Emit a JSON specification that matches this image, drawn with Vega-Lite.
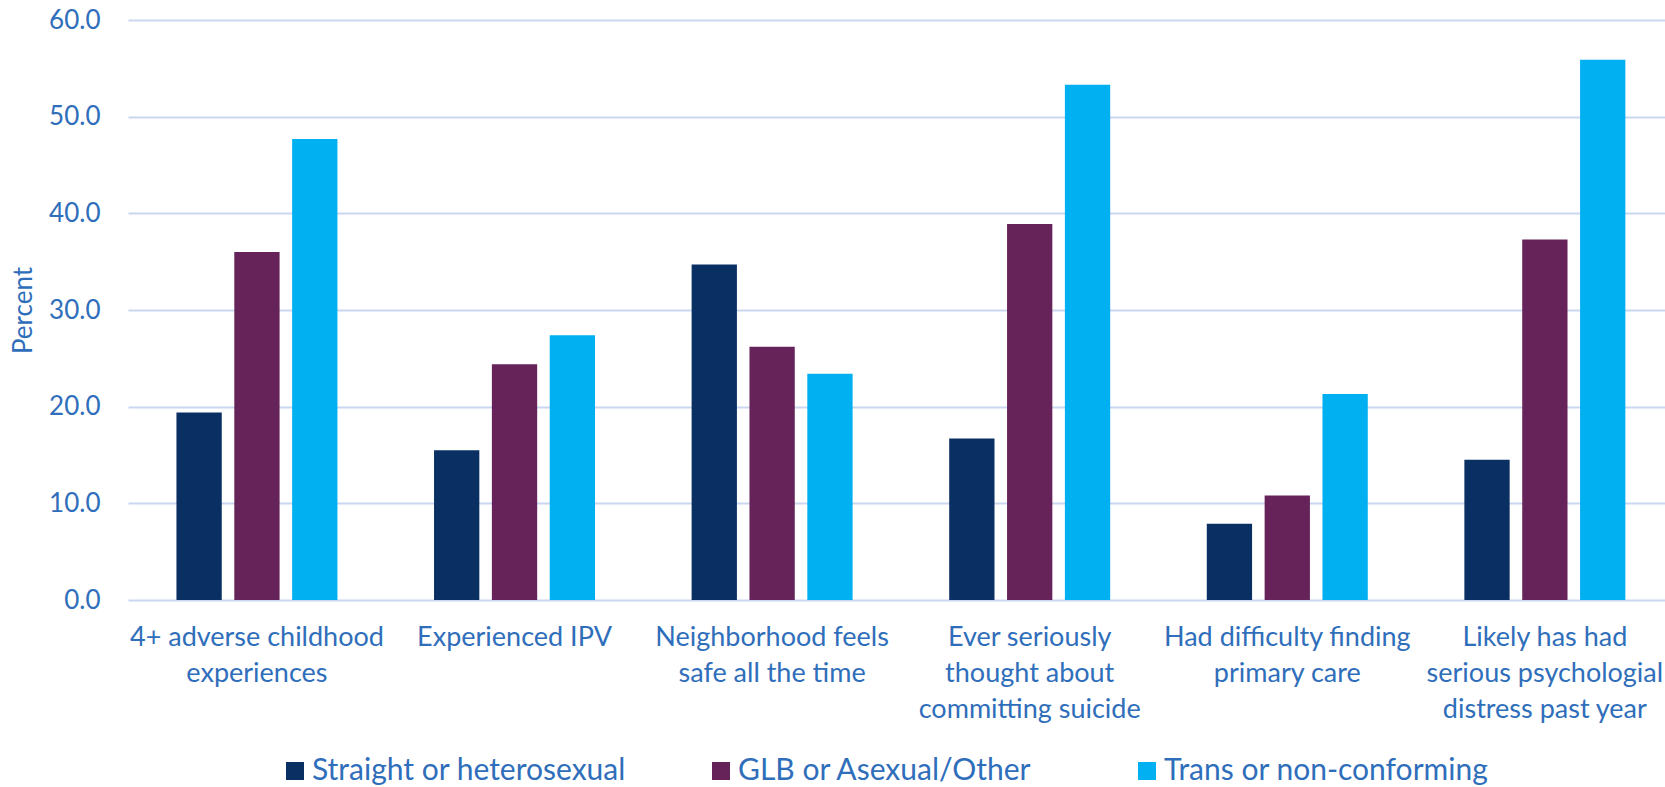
{
  "$schema": "https://vega.github.io/schema/vega-lite/v6.json",
  "width": 1537,
  "height": 580,
  "autosize": {"type": "none"},
  "padding": {"left": 128, "top": 20, "right": 0, "bottom": 187},
  "background": "white",
  "config": {
    "view": {"stroke": null},
    "font": "Lato",
    "axis": {"domain": false, "ticks": false, "labelColor": "#2F6EBA", "titleColor": "#2F6EBA", "gridColor": "#C9D8F0", "gridWidth": 1.8}
  },
  "data": {
    "values": [
      {"measure": "4+ adverse childhood experiences", "group": "Straight or heterosexual", "percent": 19.4},
      {"measure": "4+ adverse childhood experiences", "group": "GLB or Asexual/Other", "percent": 36.0},
      {"measure": "4+ adverse childhood experiences", "group": "Trans or non-conforming", "percent": 47.7},
      {"measure": "Experienced IPV", "group": "Straight or heterosexual", "percent": 15.5},
      {"measure": "Experienced IPV", "group": "GLB or Asexual/Other", "percent": 24.4},
      {"measure": "Experienced IPV", "group": "Trans or non-conforming", "percent": 27.4},
      {"measure": "Neighborhood feels safe all the time", "group": "Straight or heterosexual", "percent": 34.7},
      {"measure": "Neighborhood feels safe all the time", "group": "GLB or Asexual/Other", "percent": 26.2},
      {"measure": "Neighborhood feels safe all the time", "group": "Trans or non-conforming", "percent": 23.4},
      {"measure": "Ever seriously thought about committing suicide", "group": "Straight or heterosexual", "percent": 16.7},
      {"measure": "Ever seriously thought about committing suicide", "group": "GLB or Asexual/Other", "percent": 38.9},
      {"measure": "Ever seriously thought about committing suicide", "group": "Trans or non-conforming", "percent": 53.3},
      {"measure": "Had difficulty finding primary care", "group": "Straight or heterosexual", "percent": 7.9},
      {"measure": "Had difficulty finding primary care", "group": "GLB or Asexual/Other", "percent": 10.8},
      {"measure": "Had difficulty finding primary care", "group": "Trans or non-conforming", "percent": 21.3},
      {"measure": "Likely has had serious psychologial distress past year", "group": "Straight or heterosexual", "percent": 14.5},
      {"measure": "Likely has had serious psychologial distress past year", "group": "GLB or Asexual/Other", "percent": 37.3},
      {"measure": "Likely has had serious psychologial distress past year", "group": "Trans or non-conforming", "percent": 55.9}
    ]
  },
  "mark": {"type": "bar"},
  "encoding": {
    "x": {
      "field": "measure",
      "type": "nominal",
      "sort": null,
      "scale": {"paddingInner": 0.375, "paddingOuter": 0.171, "align": 0.55},
      "axis": {
        "title": null,
        "labelAngle": 0,
        "labelFontSize": 27,
        "labelLineHeight": 36,
        "labelPadding": 24,
        "labelBaseline": "top",
        "labelLimit": 0,
        "labelExpr": "{'4+ adverse childhood experiences': ['4+ adverse childhood', 'experiences'], 'Experienced IPV': ['Experienced IPV'], 'Neighborhood feels safe all the time': ['Neighborhood feels', 'safe all the time'], 'Ever seriously thought about committing suicide': ['Ever seriously', 'thought about', 'committing suicide'], 'Had difficulty finding primary care': ['Had difficulty finding', 'primary care'], 'Likely has had serious psychologial distress past year': ['Likely has had', 'serious psychologial', 'distress past year']}[datum.label]"
      }
    },
    "xOffset": {
      "field": "group",
      "type": "nominal",
      "sort": ["Straight or heterosexual", "GLB or Asexual/Other", "Trans or non-conforming"],
      "scale": {"paddingInner": 0.217, "paddingOuter": 0}
    },
    "y": {
      "field": "percent",
      "type": "quantitative",
      "scale": {"domain": [0, 60]},
      "axis": {
        "title": "Percent",
        "titleFontSize": 26,
        "titleFontWeight": "normal",
        "titlePadding": 12,
        "values": [0, 10, 20, 30, 40, 50, 60],
        "format": ".1f",
        "labelFontSize": 26,
        "labelPadding": 28
      }
    },
    "color": {
      "field": "group",
      "type": "nominal",
      "scale": {
        "domain": ["Straight or heterosexual", "GLB or Asexual/Other", "Trans or non-conforming"],
        "range": ["#0A2F63", "#662359", "#00B0F0"]
      },
      "legend": {
        "title": null,
        "orient": "none",
        "legendX": 152,
        "legendY": 736,
        "direction": "horizontal",
        "columns": 3,
        "gridAlign": "all",
        "columnPadding": 69,
        "symbolType": "square",
        "symbolSize": 324,
        "symbolStrokeWidth": 0,
        "labelOffset": 2,
        "labelFontSize": 30,
        "labelColor": "#2F6EBA",
        "labelLimit": 0,
        "padding": 0
      }
    }
  }
}
